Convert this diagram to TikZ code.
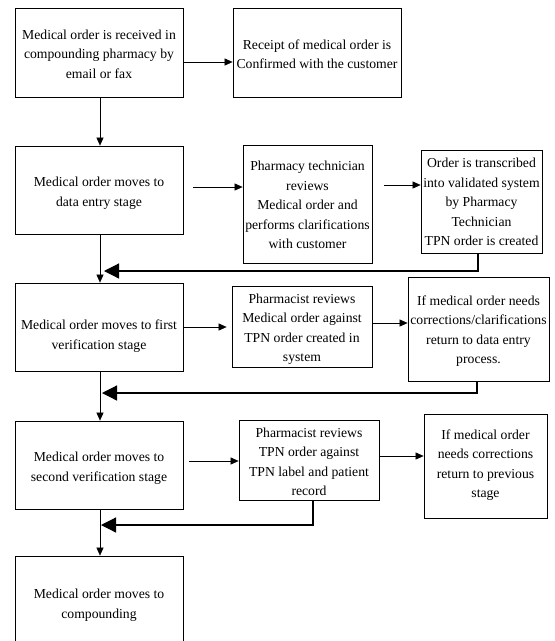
\documentclass[tikz,border=0pt]{standalone}
\usepackage{fontspec}
\setmainfont{Liberation Serif}
\usetikzlibrary{arrows.meta}
\begin{document}
\begin{tikzpicture}[x=1pt,y=-1pt,
  box/.style={draw,line width=0.8pt,inner sep=0pt},
  txt/.style={align=center,font=\fontsize{13.7}{19.5}\selectfont,inner sep=0pt},
  arr/.style={line width=0.6pt,-{Triangle[length=8pt,width=7pt]}},
  fb/.style={line width=1.2pt,-{Triangle[length=15pt,width=15pt]}}]
\useasboundingbox (0,0) rectangle (555,641);
\fill[white] (0,0) rectangle (555,641);

% boxes
\node[box,minimum width=168pt,minimum height=89pt]  (b1)  at (99,52.5) {};
\node[box,minimum width=168pt,minimum height=89pt]  (b2)  at (317,52.5) {};
\node[box,minimum width=168pt,minimum height=88pt]  (b3)  at (99,190) {};
\node[box,minimum width=129pt,minimum height=118pt] (b4)  at (307.5,204) {};
\node[box,minimum width=121pt,minimum height=103pt] (b5)  at (481.5,201.5) {};
\node[box,minimum width=168pt,minimum height=88pt]  (b6)  at (99,327) {};
\node[box,minimum width=140pt,minimum height=81pt]  (b7)  at (302,326.5) {};
\node[box,minimum width=141pt,minimum height=104pt] (b8)  at (478.5,329) {};
\node[box,minimum width=168pt,minimum height=88pt]  (b9)  at (99,465) {};
\node[box,minimum width=140pt,minimum height=80pt]  (b10) at (309,460) {};
\node[box,minimum width=123pt,minimum height=104pt] (b11) at (485.5,466) {};
\node[box,minimum width=168pt,minimum height=94pt]  (b12) at (99,603) {};

% texts
\node[txt] (t1)  at (99,54)    {Medical order is received in\\compounding pharmacy by\\email or fax};
\node[txt] (t2)  at (317,54)   {Receipt of medical order is\\Confirmed with the customer};
\node[txt] (t3)  at (99,193)   {Medical order moves to\\data entry stage};
\node[txt] (t4)  at (307.5,205) {Pharmacy technician\\reviews\\Medical order and\\performs clarifications\\with customer};
\node[txt] (t5)  at (481.5,202) {Order is transcribed\\into validated system\\by Pharmacy\\Technician\\TPN order is created};
\node[txt] (t6)  at (99,336)   {Medical order moves to first\\verification stage};
\node[txt] (t7)  at (302,329)  {Pharmacist reviews\\Medical order against\\TPN order created in\\system};
\node[txt] (t8)  at (478.5,331) {If medical order needs\\corrections/clarifications\\return to data entry\\process.};
\node[txt] (t9)  at (99,468)   {Medical order moves to\\second verification stage};
\node[txt] (t10) at (309,462)  {Pharmacist reviews\\TPN order against\\TPN label and patient\\record};
\node[txt] (t11) at (485.5,465) {If medical order\\needs corrections\\return to previous\\stage};
\node[txt] (t12) at (99,605)   {Medical order moves to\\compounding};

% horizontal connectors
\draw[arr] (b1.east |- 0,62) -- (b2.west |- 0,62);
\draw[arr,shorten <=10pt] (b3.east |- 0,187) -- (b4.west |- 0,187);
\draw[arr,shorten <=12pt] (b4.east |- 0,185) -- (b5.west |- 0,185);
\draw[arr,shorten >=5pt] (b6.east |- 0,327) -- (b7.west |- 0,327);
\draw[arr] (b7.east |- 0,323) -- (b8.west |- 0,323);
\draw[arr,shorten <=6pt] (b9.east |- 0,461) -- (b10.west |- 0,461);
\draw[arr] (b10.east |- 0,456) -- (b11.west |- 0,456);

% vertical connectors
\draw[arr] (b1.south -| 100,0) -- (b3.north -| 100,0);
\draw[arr] (b3.south -| 100,0) -- (b6.north -| 100,0);
\draw[arr] (b6.south -| 100,0) -- (b9.north -| 100,0);
\draw[arr] (b9.south -| 100,0) -- (b12.north -| 100,0);

% feedback connectors
\coordinate (f1) at (104,271);
\coordinate (f2) at (102,393);
\coordinate (f3) at (101,525);
\draw[fb] (b5.south -| 478,0) |- (f1);
\draw[fb] (b8.south -| 477,0) |- (f2);
\draw[fb] (b10.south -| 313,0) |- (f3);
\end{tikzpicture}
\end{document}
